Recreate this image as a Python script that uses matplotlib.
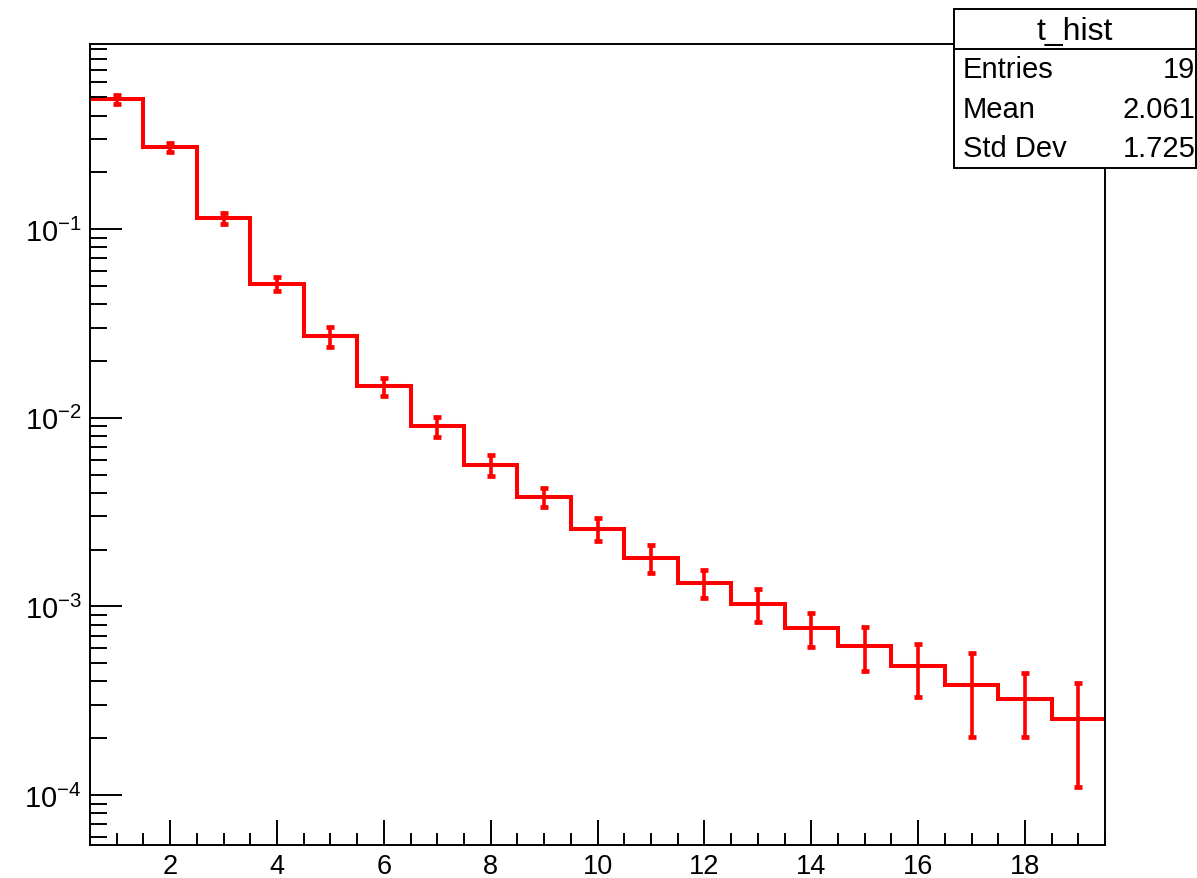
import matplotlib
matplotlib.use('Agg')
import matplotlib.pyplot as plt
from matplotlib.ticker import FixedLocator, LogLocator, NullFormatter, MultipleLocator
import numpy as np

plt.rcParams['font.family'] = ['Liberation Sans', 'DejaVu Sans']
plt.rcParams['mathtext.fontset'] = 'custom'
plt.rcParams['mathtext.rm'] = 'Liberation Sans'

# histogram t_hist: 19 bins from 0.5 to 19.5
bin_edges = np.arange(0.5, 20.0, 1.0)
bin_centers = np.arange(1, 20)
contents = [0.489, 0.271, 0.114, 0.0512, 0.0270, 0.0147, 0.0090, 0.00561,
            0.0038, 0.00258, 0.00181, 0.00133, 0.00103, 0.000766, 0.000615,
            0.000482, 0.000383, 0.000323, 0.000252]
errors = [0.026, 0.016, 0.008, 0.0044, 0.0033, 0.0016, 0.0011, 0.0007,
          0.00044, 0.00036, 0.0003, 0.00022, 0.0002, 0.00016, 0.00016,
          0.00015, 0.00018, 0.00012, 0.000142]
stats_labels = ["Entries", "Mean", "Std Dev"]
stats_values = ["19", "2.061", "1.725"]
hist_name = "t_hist"

fig = plt.figure(figsize=(11.97, 8.79), dpi=100)
ax = fig.add_axes([0.0752, 0.0375, 0.9232 - 0.0752, 0.949 - 0.0375])

ax.stairs(contents, bin_edges, baseline=None, color='red', lw=2.9)
ax.errorbar(bin_centers, contents, yerr=errors, fmt='none', ecolor='red',
            elinewidth=2.6, capsize=3.2, capthick=3.4)

ax.set_yscale('log')
ax.set_xlim(0.5, 19.5)
ax.set_ylim(5.43e-5, 0.96)

ax.xaxis.set_major_locator(FixedLocator(range(2, 19, 2)))
ax.xaxis.set_minor_locator(MultipleLocator(0.5))
ax.yaxis.set_minor_locator(LogLocator(base=10, subs=np.arange(2, 10), numticks=20))
ax.yaxis.set_minor_formatter(NullFormatter())
ax.set_yticks([1e-4, 1e-3, 1e-2, 1e-1])
ax.set_yticklabels([r'$10^{-4}$', r'$10^{-3}$', r'$10^{-2}$', r'$10^{-1}$'])

ax.tick_params(axis='x', which='major', direction='in', length=18, width=1.4,
               labelsize=19.5, pad=6, top=False)
ax.tick_params(axis='x', which='minor', direction='in', length=9, width=1.4, top=False)
ax.tick_params(axis='y', which='major', direction='in', length=23, width=1.4,
               labelsize=21, pad=6, right=False)
ax.tick_params(axis='y', which='minor', direction='in', length=12, width=1.4, right=False)
for s in ax.spines.values():
    s.set_linewidth(1.4)

# stats box
bx0, bx1, by0, by1 = 0.797, 0.999, 0.8074, 0.9886
sep = 0.943
fig.patches.append(plt.Rectangle((bx0, by0), bx1 - bx0, by1 - by0, transform=fig.transFigure,
                                 facecolor='white', edgecolor='black', lw=1.4, zorder=5))
fig.lines.append(plt.Line2D([bx0, bx1], [sep, sep], transform=fig.transFigure,
                            color='black', lw=1.4, zorder=6))
fig.text((bx0 + bx1) / 2, (sep + by1) / 2 - 0.002, hist_name, ha='center', va='center',
         fontsize=23, zorder=7)
row_h = (sep - by0) / 3
for i, (lab, val) in enumerate(zip(stats_labels, stats_values)):
    yc = sep - row_h * (i + 0.5)
    fig.text(0.8045, yc, lab, ha='left', va='center', fontsize=21, zorder=7)
    fig.text(0.9985, yc, val, ha='right', va='center', fontsize=21, zorder=7)

plt.savefig("out.png", dpi=100, facecolor='white')
plt.close()
